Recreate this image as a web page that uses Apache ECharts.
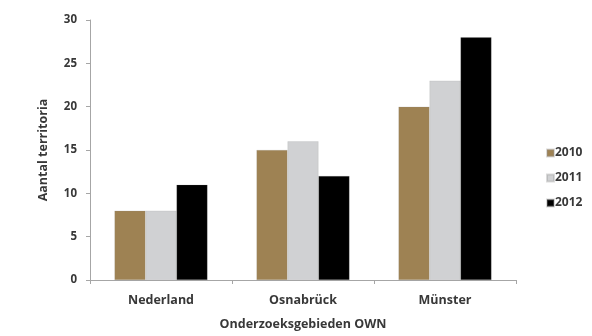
<!DOCTYPE html>
<html>
<head>
<meta charset="utf-8">
<script src="https://cdn.jsdelivr.net/npm/echarts@6/dist/echarts.min.js"></script>
<style>
  html, body { margin: 0; padding: 0; background: #fff; }
  #chart { width: 592px; height: 336px; }
</style>
</head>
<body>
<div id="chart"></div>
<script>
// Territories per study area and year
const regions = ['Nederland', 'Osnabrück', 'Münster'];
const years = ['2010', '2011', '2012'];
const values2010 = [8, 15, 20];
const values2011 = [8, 16, 23];
const values2012 = [11, 12, 28];
const yTicks = { min: 0, max: 30, step: 5 };

const seriesColors = ['#9e8253', '#d0d1d3', '#000000'];
const textColor = '#383838';
const axisColor = '#a6a6a6';
const fontFamily = '"Open Sans", "Liberation Sans", sans-serif';

const chart = echarts.init(document.getElementById('chart'), null, { renderer: 'canvas' });

const seriesValues = [values2010, values2011, values2012];

chart.setOption({
  animation: false,
  backgroundColor: '#ffffff',
  textStyle: { fontFamily: fontFamily },
  grid: { left: 90, right: 76, top: 20, bottom: 55, containLabel: false },
  legend: {
    orient: 'vertical',
    left: 541,
    top: 142,
    itemWidth: 7,
    itemHeight: 7,
    itemGap: 13,
    icon: 'rect',
    textStyle: { color: textColor, fontWeight: 'bold', fontSize: 12, fontFamily: fontFamily, padding: [0, 0, 0, -4] },
    data: years
  },
  xAxis: {
    type: 'category',
    data: regions,
    name: 'Onderzoeksgebieden OWN',
    nameLocation: 'middle',
    nameGap: 38,
    nameTextStyle: { color: textColor, fontWeight: 'bold', fontSize: 12.5, fontFamily: fontFamily },
    axisLine: { show: true, lineStyle: { color: axisColor, width: 1 } },
    axisTick: { show: true, alignWithLabel: false, length: 4, lineStyle: { color: axisColor } },
    axisLabel: { color: textColor, fontWeight: 'bold', fontSize: 12.5, margin: 14, fontFamily: fontFamily },
    splitLine: { show: false }
  },
  yAxis: {
    type: 'value',
    min: yTicks.min,
    max: yTicks.max,
    interval: yTicks.step,
    name: 'Aantal territoria',
    nameLocation: 'middle',
    nameRotate: 90,
    nameGap: 40,
    nameTextStyle: { color: textColor, fontWeight: 'bold', fontSize: 12.5, fontFamily: fontFamily },
    axisLine: { show: true, lineStyle: { color: axisColor, width: 1 } },
    axisTick: { show: true, length: 4, lineStyle: { color: axisColor } },
    axisLabel: { color: textColor, fontWeight: 'bold', fontSize: 11.5, margin: 13, fontFamily: fontFamily },
    splitLine: { show: false }
  },
  series: years.map((year, i) => ({
    name: year,
    type: 'bar',
    data: seriesValues[i],
    barWidth: 31,
    barGap: '0%',
    itemStyle: { color: seriesColors[i], borderColor: 'rgba(150,150,150,0.35)', borderWidth: 0.5 }
  }))
});
</script>
</body>
</html>
